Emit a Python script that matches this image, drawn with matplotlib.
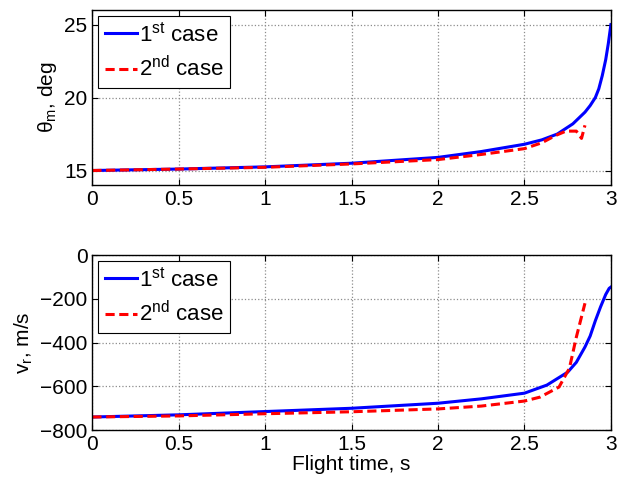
import matplotlib
matplotlib.use("Agg")
import matplotlib.pyplot as plt

plt.rcParams["font.family"] = ["Liberation Sans", "DejaVu Sans"]
plt.rcParams["mathtext.fontset"] = "custom"
plt.rcParams["mathtext.rm"] = "Liberation Sans"
plt.rcParams["mathtext.it"] = "Liberation Sans"

# flight time samples, s
t1 = [0.0, 0.5, 1.0, 1.5, 2.0, 2.25, 2.5, 2.6, 2.69, 2.78, 2.85, 2.88, 2.91, 2.93, 2.95, 2.97, 2.985, 3.0]
theta1 = [15.0, 15.1, 15.25, 15.5, 15.9, 16.3, 16.8, 17.1, 17.5, 18.2, 19.0, 19.45, 20.0, 20.6, 21.5, 22.6, 23.7, 25.0]

t2 = [0.0, 0.5, 1.0, 1.5, 2.0, 2.25, 2.5, 2.6, 2.68, 2.74, 2.8, 2.83, 2.85]
theta2 = [15.0, 15.1, 15.22, 15.45, 15.75, 16.1, 16.5, 16.9, 17.4, 17.7, 17.7, 17.2, 18.1]

tv1 = [0.0, 0.5, 1.0, 1.5, 2.0, 2.25, 2.5, 2.63, 2.75, 2.8, 2.85, 2.88, 2.91, 2.94, 2.97, 2.99, 3.0]
vr1 = [-740, -730, -715, -700, -677, -657, -631, -594, -535, -490, -420, -370, -300, -237, -180, -152, -146]

tv2 = [0.0, 0.5, 1.0, 1.5, 2.0, 2.25, 2.5, 2.59, 2.7, 2.76, 2.8, 2.85]
vr2 = [-740, -735, -725, -716, -703, -690, -667, -649, -603, -517, -375, -220]

xticks = [0, 0.5, 1, 1.5, 2, 2.5, 3]
xticklabels = ["0", "0.5", "1", "1.5", "2", "2.5", "3"]


def style_axes(ax):
    ax.set_xlim(0, 3)
    ax.set_xticks(xticks)
    ax.set_xticklabels(xticklabels)
    ax.grid(True, color="0.55", linestyle=":", linewidth=0.9)
    ax.tick_params(direction="in", top=True, right=True, labelsize=15,
                   length=4, width=0.8)
    for s in ax.spines.values():
        s.set_linewidth(1.0)
    leg = ax.legend(loc="upper left", fontsize=16, fancybox=False,
                    edgecolor="black", framealpha=1, handlelength=1.45,
                    borderaxespad=0.25, labelspacing=0.45, handletextpad=0.1,
                    borderpad=0.3)
    leg.get_frame().set_linewidth(0.8)


fig, (ax1, ax2) = plt.subplots(2, 1, figsize=(6.24, 4.79), dpi=100)
fig.subplots_adjust(left=0.148, right=0.979, top=0.979, bottom=0.102, hspace=0.4)

ax1.plot(t1, theta1, color="blue", lw=2.2, label="1$^{st}$ case")
ax1.plot(t2, theta2, color="red", lw=2.2, ls=(0, (3, 1.5)), label="2$^{nd}$ case")
ax1.set_ylim(14, 26)
ax1.set_yticks([15, 20, 25])
ax1.set_ylabel("θ$_m$, deg", fontsize=15)
style_axes(ax1)

ax2.plot(tv1, vr1, color="blue", lw=2.2, label="1$^{st}$ case")
ax2.plot(tv2, vr2, color="red", lw=2.2, ls=(0, (3, 1.5)), label="2$^{nd}$ case")
ax2.set_ylim(-800, 0)
ax2.set_yticks([-800, -600, -400, -200, 0])
ax2.set_ylabel("v$_r$, m/s", fontsize=15)
ax2.set_xlabel("Flight time, s", fontsize=15, labelpad=1)
style_axes(ax2)

fig.savefig("out.png", dpi=100)
